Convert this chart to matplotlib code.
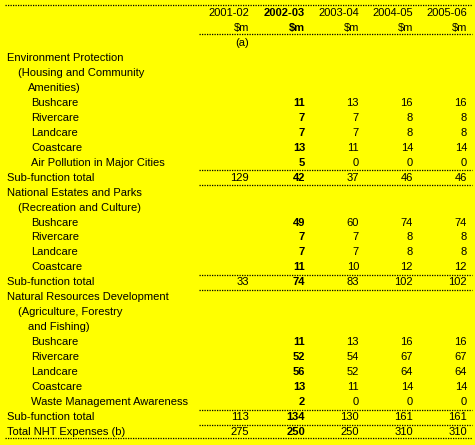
import matplotlib
matplotlib.use("Agg")
import matplotlib.pyplot as plt

W, H = 475, 445
years = ["2001-02", "2002-03", "2003-04", "2004-05", "2005-06"]
units = ["$m"] * 5
# (label, indent level, values, is_total)
labels = ["Environment Protection", "(Housing and Community", "Amenities)",
          "Bushcare", "Rivercare", "Landcare", "Coastcare", "Air Pollution in Major Cities",
          "Sub-function total",
          "National Estates and Parks", "(Recreation and Culture)",
          "Bushcare", "Rivercare", "Landcare", "Coastcare", "Sub-function total",
          "Natural Resources Development", "(Agriculture, Forestry", "and Fishing)",
          "Bushcare", "Rivercare", "Landcare", "Coastcare", "Waste Management Awareness",
          "Sub-function total", "Total NHT Expenses (b)"]
indents = [0, 1, 2, 3, 3, 3, 3, 3, 0, 0, 1, 3, 3, 3, 3, 0, 0, 1, 2, 3, 3, 3, 3, 3, 0, 0]
values = [None, None, None,
          ["", 11, 13, 16, 16], ["", 7, 7, 8, 8], ["", 7, 7, 8, 8], ["", 13, 11, 14, 14],
          ["", 5, 0, 0, 0], [129, 42, 37, 46, 46],
          None, None,
          ["", 49, 60, 74, 74], ["", 7, 7, 8, 8], ["", 7, 7, 8, 8], ["", 11, 10, 12, 12],
          [33, 74, 83, 102, 102],
          None, None, None,
          ["", 11, 13, 16, 16], ["", 52, 54, 67, 67], ["", 56, 52, 64, 64], ["", 13, 11, 14, 14],
          ["", 2, 0, 0, 0], [113, 134, 130, 161, 161], [275, 250, 250, 310, 310]]

fig = plt.figure(figsize=(W / 100, H / 100), dpi=100)
fig.patch.set_facecolor("#FFFF00")
ax = fig.add_axes([0, 0, 1, 1])
ax.set_xlim(0, W)
ax.set_ylim(H, 0)
ax.axis("off")
ax.set_facecolor("#FFFF00")

font = dict(family=["Liberation Sans", "DejaVu Sans"], fontsize=8, va="center")
colx = [249, 305, 359, 413, 467]
indx = [7, 18, 28, 31]

def hline(y, x0, x1=472):
    ax.plot([x0, x1], [y, y], color="black", lw=0.9, linestyle=(0, (1, 1)))

hline(5, 5)
for i, (yr, u) in enumerate(zip(years, units)):
    w = "bold" if i == 1 else "normal"
    ax.text(colx[i], 13, yr, ha="right", fontweight=w, **font)
    ax.text(colx[i], 28, u, ha="right", fontweight=w, **font)
hline(34, 199)
ax.text(colx[0], 43, "(a)", ha="right", **font)

step = 14.96
for j, (lab, ind, vals) in enumerate(zip(labels, indents, values)):
    y = 43 + step * (j + 1)
    ax.text(indx[ind], y, lab, ha="left", **font)
    if vals is not None:
        for i, v in enumerate(vals):
            ax.text(colx[i], y, str(v), ha="right",
                    fontweight="bold" if i == 1 else "normal", **font)
    if lab == "Sub-function total":
        hline(y - 7.3, 199)
        hline(y + 7.5, 199)
    if lab.startswith("Total NHT"):
        hline(y + 6.5, 5)

fig.savefig("out.png", dpi=100, facecolor=fig.get_facecolor())
